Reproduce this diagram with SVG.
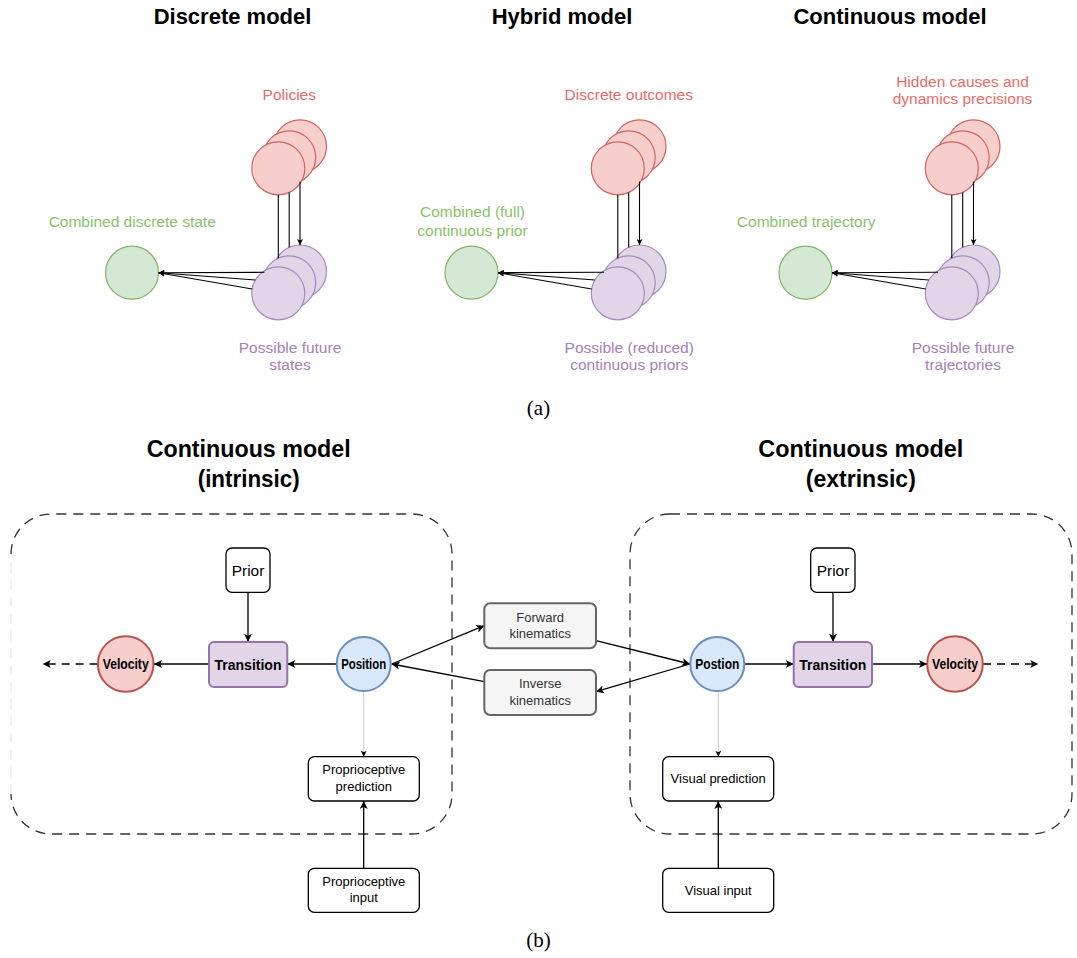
<svg xmlns="http://www.w3.org/2000/svg" width="1077" height="958" viewBox="0 0 1077 958">
<style>
text{font-family:"Liberation Sans",Arial,sans-serif}
.title{font-size:22px;font-weight:bold;fill:#000;text-anchor:middle}
.btitle{font-size:24px;font-weight:bold;fill:#000;text-anchor:middle}
.cap{font-family:"Liberation Serif","Times New Roman",serif;font-size:21px;fill:#000;text-anchor:middle}
.lr{font-size:15.5px;fill:#ea6b66;text-anchor:middle}
.lg{font-size:15.5px;fill:#88c269;text-anchor:middle}
.lp{font-size:15.5px;fill:#a680b8;text-anchor:middle}
.cr{fill:#f8cecc;stroke:#cc6660;stroke-width:1.2}
.cp{fill:#e1d5e7;stroke:#a68bbd;stroke-width:1.2}
.cg{fill:#d5e8d4;stroke:#82b366;stroke-width:1.2}
.tl{fill:none;stroke:#000;stroke-width:1.1}
.box{fill:#fff;stroke:#000;stroke-width:1.3}
.kin{fill:#f5f5f5;stroke:#666;stroke-width:2}
.trn{fill:#e1d5e7;stroke:#9673a6;stroke-width:2}
.vel{fill:#f8cecc;stroke:#b85450;stroke-width:2}
.pos{fill:#dae8fc;stroke:#6c8ebf;stroke-width:2}
.t13{font-size:13px;fill:#000;text-anchor:middle}
.k13{font-size:13px;fill:#333;text-anchor:middle}
.nb{font-size:14px;font-weight:bold;fill:#000;text-anchor:middle}
.e{fill:none;stroke:#000;stroke-width:1.3}
.dash{fill:none;stroke:#333;stroke-width:1.3;stroke-dasharray:10 7}
</style>
<defs>
<marker id="a" viewBox="0 0 10 10" refX="10" refY="5" markerWidth="9" markerHeight="8" markerUnits="userSpaceOnUse" orient="auto">
<path d="M0,0 L10,5 L0,10 L2.5,5 z" fill="#000"/>
</marker>
<marker id="as" viewBox="0 0 10 10" refX="10" refY="5" markerWidth="7" markerHeight="6" markerUnits="userSpaceOnUse" orient="auto">
<path d="M0,0 L10,5 L0,10 L2.5,5 z" fill="#000"/>
</marker>
<g id="cluster">
<circle class="cr" cx="300" cy="146.3" r="26.5"/>
<circle class="cr" cx="289.2" cy="157.3" r="26.5"/>
<circle class="cr" cx="278.3" cy="168.3" r="26.5"/>
<circle class="cp" cx="300" cy="271.5" r="26.5"/>
<circle class="cp" cx="289.2" cy="282.4" r="26.5"/>
<circle class="cp" cx="278.3" cy="293.3" r="26.5"/>
<circle class="cg" cx="132" cy="272.7" r="26.5"/>
<path class="tl" d="M278.3,194.8 V258.2"/>
<path class="tl" d="M289.2,192.4 V247.6"/>
<path class="tl" d="M300,181.5 V245" marker-end="url(#as)"/>
<path class="tl" d="M264.5,272.3 L158.5,272.7" marker-end="url(#as)"/>
<path class="tl" d="M255.4,280 L158.5,272.7" marker-end="url(#as)"/>
<path class="tl" d="M252.2,289 L158.5,272.7" marker-end="url(#as)"/>
</g>
</defs>

<!-- (a) -->
<text class="title" x="232.5" y="23.5">Discrete model</text>
<text class="title" x="562" y="23.5">Hybrid model</text>
<text class="title" x="890" y="23.5">Continuous model</text>

<g id="discrete">
<use href="#cluster"/>
<text class="lr" x="289.3" y="100">Policies</text>
<text class="lg" x="132.2" y="226.7">Combined discrete state</text>
<text class="lp" x="290" y="352.7">Possible future</text>
<text class="lp" x="290" y="370">states</text>
</g>
<g id="hybrid">
<use href="#cluster" transform="translate(339.5,0)"/>
<text class="lr" x="628.8" y="99.5">Discrete outcomes</text>
<text class="lg" x="472.5" y="217">Combined (full)</text>
<text class="lg" x="472.5" y="235.5">continuous prior</text>
<text class="lp" x="629.2" y="352.7">Possible (reduced)</text>
<text class="lp" x="629.2" y="370">continuous priors</text>
</g>
<g id="continuous">
<use href="#cluster" transform="translate(673.5,0)"/>
<text class="lr" x="962.5" y="86.7">Hidden causes and</text>
<text class="lr" x="962.5" y="104.3">dynamics precisions</text>
<text class="lg" x="806.2" y="226.7">Combined trajectory</text>
<text class="lp" x="963" y="352.7">Possible future</text>
<text class="lp" x="963" y="370">trajectories</text>
</g>
<text class="cap" x="538.5" y="415">(a)</text>

<!-- (b) -->
<text class="btitle" x="248.7" y="456.5" textLength="204" lengthAdjust="spacingAndGlyphs">Continuous model</text>
<text class="btitle" x="248.7" y="486.5" textLength="102" lengthAdjust="spacingAndGlyphs">(intrinsic)</text>
<text class="btitle" x="860.8" y="456.5" textLength="205" lengthAdjust="spacingAndGlyphs">Continuous model</text>
<text class="btitle" x="860.8" y="486.5" textLength="110" lengthAdjust="spacingAndGlyphs">(extrinsic)</text>

<g id="intrinsic-frame">
<path class="dash" d="M11,554 A40,40 0 0 1 51,514 H412 A40,40 0 0 1 452,554 V794 A40,40 0 0 1 412,834 H51 A40,40 0 0 1 11,794"/>
<path d="M11,794 V554" fill="none" stroke="#e6e6e6" stroke-width="1.2" stroke-dasharray="10 7"/>
</g>
<g id="extrinsic-frame">
<rect class="dash" x="630" y="514" width="442" height="320" rx="40" ry="40"/>
</g>

<g id="connectors">
<path class="e" d="M248,592.3 V641.7" marker-end="url(#a)"/>
<path class="e" d="M336.5,664 H287.3" marker-end="url(#a)"/>
<path class="e" d="M209,664 H154" marker-end="url(#a)"/>
<path class="e" d="M97.7,664 H42.7" stroke-dasharray="8 6" marker-end="url(#a)"/>
<path d="M363.7,691 V756.7" fill="none" stroke="#bbb" stroke-width="0.8" marker-end="url(#as)"/>
<path class="e" d="M363.7,868.3 V801" marker-end="url(#a)"/>
<path class="e" d="M833,592.3 V641.7" marker-end="url(#a)"/>
<path class="e" d="M744.5,664 H793.7" marker-end="url(#a)"/>
<path class="e" d="M872,664 H927" marker-end="url(#a)"/>
<path class="e" d="M983,664 H1038.3" stroke-dasharray="8 6" marker-end="url(#a)"/>
<path d="M718.3,691 V756.7" fill="none" stroke="#bbb" stroke-width="0.8" marker-end="url(#as)"/>
<path class="e" d="M718.3,868.3 V801" marker-end="url(#a)"/>
<path class="e" d="M391.7,664 L484.3,625.7" marker-end="url(#a)"/>
<path class="e" d="M596,640.7 L690,664" marker-end="url(#a)"/>
<path class="e" d="M690,664 L596,691.7" marker-end="url(#a)"/>
<path class="e" d="M484.3,681.7 L391.7,664" marker-end="url(#a)"/>
</g>

<g id="prior-l"><rect class="box" x="226" y="548" width="44" height="44.3" rx="6"/><text x="248" y="575.5" font-size="15.5" text-anchor="middle">Prior</text></g>
<g id="transition-l"><rect class="trn" x="209" y="642" width="78.3" height="45" rx="5"/><text class="nb" x="248" y="670" font-size="16.5" textLength="67" lengthAdjust="spacingAndGlyphs">Transition</text></g>
<g id="velocity-l"><circle class="vel" cx="125.7" cy="664" r="27.8"/><text class="nb" x="125.7" y="669" textLength="46" lengthAdjust="spacingAndGlyphs">Velocity</text></g>
<g id="position-l"><circle class="pos" cx="363.7" cy="664" r="27"/><text class="nb" x="363.7" y="669" textLength="45" lengthAdjust="spacingAndGlyphs">Position</text></g>
<g id="prop-pred"><rect class="box" x="308.3" y="756.7" width="111" height="44.3" rx="6"/><text class="t13" x="363.8" y="774.3">Proprioceptive</text><text class="t13" x="363.8" y="791">prediction</text></g>
<g id="prop-input"><rect class="box" x="308.3" y="868.3" width="111" height="44" rx="6"/><text class="t13" x="363.8" y="885.7">Proprioceptive</text><text class="t13" x="363.8" y="902.3">input</text></g>

<g id="forward"><rect class="kin" x="484.3" y="603.3" width="111.7" height="45" rx="6"/><text class="k13" x="540.2" y="621.7">Forward</text><text class="k13" x="540.2" y="638">kinematics</text></g>
<g id="inverse"><rect class="kin" x="484.3" y="670" width="111.7" height="45" rx="6"/><text class="k13" x="540.2" y="688">Inverse</text><text class="k13" x="540.2" y="704.5">kinematics</text></g>

<g id="prior-r"><rect class="box" x="810.7" y="548" width="44.3" height="44.3" rx="6"/><text x="833" y="575.5" font-size="15.5" text-anchor="middle">Prior</text></g>
<g id="transition-r"><rect class="trn" x="793.7" y="642" width="78.3" height="45" rx="5"/><text class="nb" x="832.8" y="670" font-size="16.5" textLength="67" lengthAdjust="spacingAndGlyphs">Transition</text></g>
<g id="velocity-r"><circle class="vel" cx="955" cy="664" r="27.8"/><text class="nb" x="955" y="669" textLength="46" lengthAdjust="spacingAndGlyphs">Velocity</text></g>
<g id="position-r"><circle class="pos" cx="717.3" cy="664" r="27"/><text class="nb" x="717.3" y="669" textLength="44" lengthAdjust="spacingAndGlyphs">Postion</text></g>
<g id="vis-pred"><rect class="box" x="662.7" y="756.7" width="111" height="44.3" rx="6"/><text class="t13" x="718.2" y="783">Visual prediction</text></g>
<g id="vis-input"><rect class="box" x="662.7" y="868.3" width="111" height="44" rx="6"/><text class="t13" x="718.2" y="894.5">Visual input</text></g>

<text class="cap" x="538.5" y="947">(b)</text>
</svg>
